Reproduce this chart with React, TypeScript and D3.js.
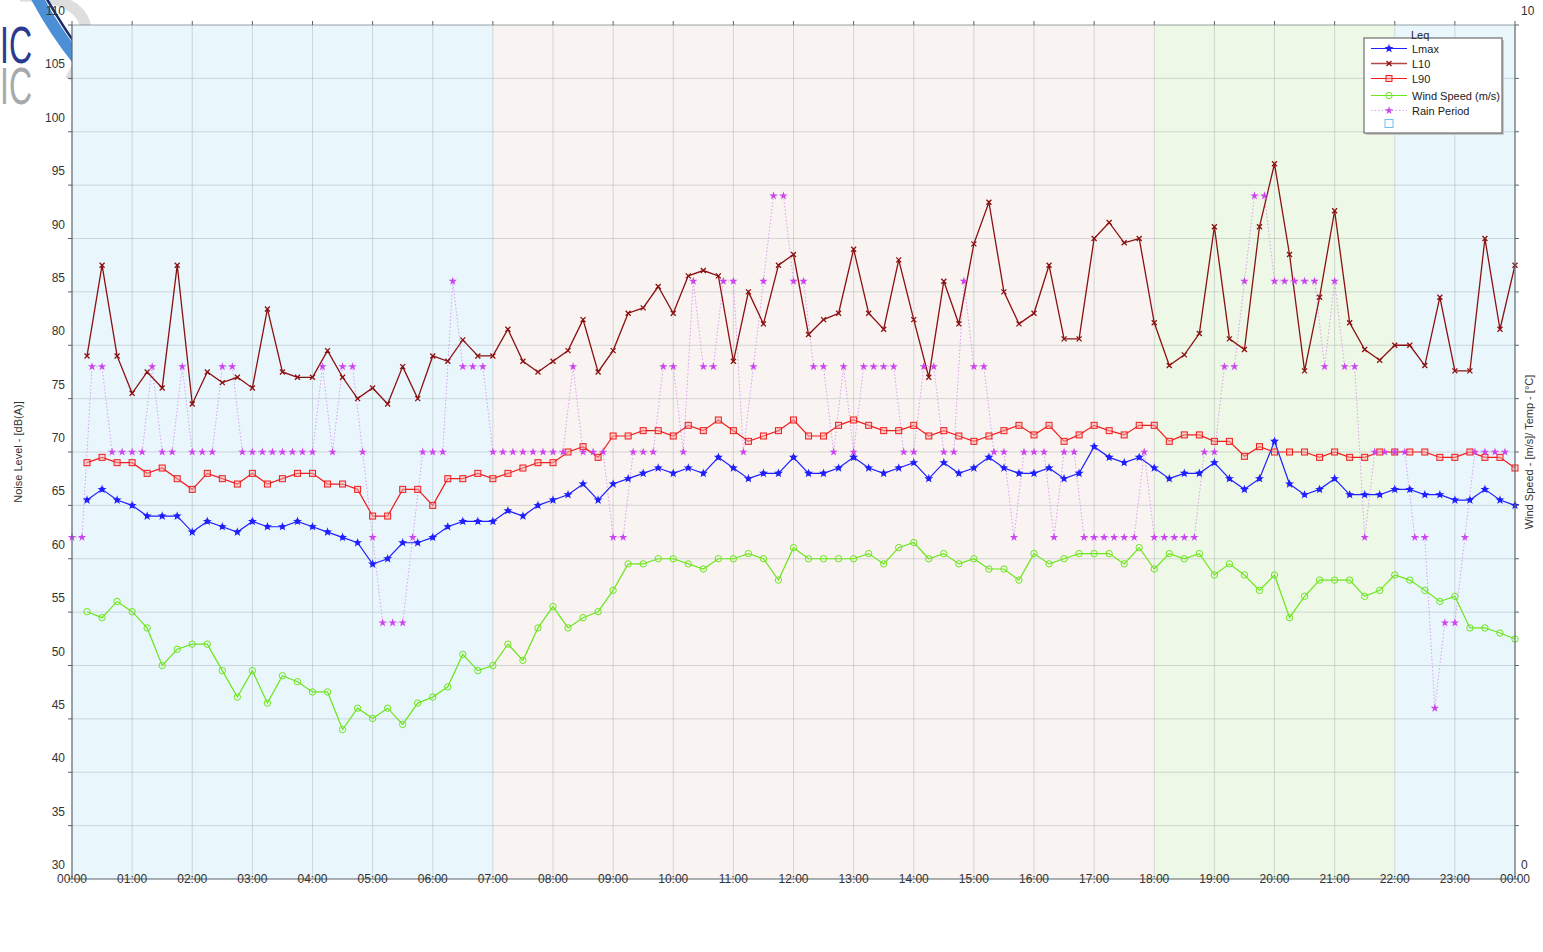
import React from "react";
import * as d3 from "d3";

// ---- Data ----
const HOUR_LABELS = [
  "00:00", "01:00", "02:00", "03:00", "04:00", "05:00", "06:00", "07:00",
  "08:00", "09:00", "10:00", "11:00", "12:00", "13:00", "14:00", "15:00",
  "16:00", "17:00", "18:00", "19:00", "20:00", "21:00", "22:00", "23:00", "00:00",
];
const DB_TICKS = [30, 35, 40, 45, 50, 55, 60, 65, 70, 75, 80, 85, 90, 95, 100, 105, 110];
const RIGHT_TICKS = [0, 10];

const PERIODS = [
  { name: "night", from: 0, to: 7 },
  { name: "day", from: 7, to: 18 },
  { name: "evening", from: 18, to: 22 },
  { name: "night", from: 22, to: 24 },
];

// 15-minute values, 00:15 .. 24:00
const LMAX = [
  65.5, 66.5, 65.5,
  65.0, 64.0, 64.0, 64.0,
  62.5, 63.5, 63.0, 62.5,
  63.5, 63.0, 63.0, 63.5,
  63.0, 62.5, 62.0, 61.5,
  59.5, 60.0, 61.5, 61.5,
  62.0, 63.0, 63.5, 63.5,
  63.5, 64.5, 64.0, 65.0,
  65.5, 66.0, 67.0, 65.5,
  67.0, 67.5, 68.0, 68.5,
  68.0, 68.5, 68.0, 69.5,
  68.5, 67.5, 68.0, 68.0,
  69.5, 68.0, 68.0, 68.5,
  69.5, 68.5, 68.0, 68.5,
  69.0, 67.5, 69.0, 68.0,
  68.5, 69.5, 68.5, 68.0,
  68.0, 68.5, 67.5, 68.0,
  70.5, 69.5, 69.0, 69.5,
  68.5, 67.5, 68.0, 68.0,
  69.0, 67.5, 66.5, 67.5,
  71.0, 67.0, 66.0, 66.5,
  67.5, 66.0, 66.0, 66.0,
  66.5, 66.5, 66.0, 66.0,
  65.5, 65.5, 66.5, 65.5,
  65.0,
];

const L10 = [
  79.0, 87.5, 79.0,
  75.5, 77.5, 76.0, 87.5,
  74.5, 77.5, 76.5, 77.0,
  76.0, 83.4, 77.5, 77.0,
  77.0, 79.5, 77.0, 75.0,
  76.0, 74.5, 78.0, 75.0,
  79.0, 78.5, 80.5, 79.0,
  79.0, 81.5, 78.5, 77.5,
  78.5, 79.5, 82.4, 77.5,
  79.5, 83.0, 83.5, 85.5,
  83.0, 86.5, 87.0, 86.5,
  78.5, 85.0, 82.0, 87.5,
  88.5, 81.0, 82.4, 83.0,
  89.0, 83.0, 81.5, 88.0,
  82.4, 77.0, 86.0, 82.0,
  89.5, 93.4, 85.0, 82.0,
  83.0, 87.5, 80.6, 80.6,
  90.0, 91.5, 89.6, 90.0,
  82.1, 78.1, 79.1, 81.1,
  91.1, 80.6, 79.6, 91.1,
  97.0, 88.5, 77.6, 84.5,
  92.6, 82.1, 79.6, 78.6,
  80.0, 80.0, 78.1, 84.5,
  77.6, 77.6, 90.0, 81.5,
  87.5,
];

const L90 = [
  69.0, 69.5, 69.0,
  69.0, 68.0, 68.5, 67.5,
  66.5, 68.0, 67.5, 67.0,
  68.0, 67.0, 67.5, 68.0,
  68.0, 67.0, 67.0, 66.5,
  64.0, 64.0, 66.5, 66.5,
  65.0, 67.5, 67.5, 68.0,
  67.5, 68.0, 68.5, 69.0,
  69.0, 70.0, 70.5, 69.5,
  71.5, 71.5, 72.0, 72.0,
  71.5, 72.5, 72.0, 73.0,
  72.0, 71.0, 71.5, 72.0,
  73.0, 71.5, 71.5, 72.5,
  73.0, 72.5, 72.0, 72.0,
  72.5, 71.5, 72.0, 71.5,
  71.0, 71.5, 72.0, 72.5,
  71.6, 72.5, 71.0, 71.6,
  72.5, 72.0, 71.6, 72.5,
  72.5, 71.0, 71.6, 71.6,
  71.0, 71.0, 69.6, 70.5,
  70.0, 70.0, 70.0, 69.5,
  70.0, 69.5, 69.5, 70.0,
  70.0, 70.0, 70.0, 69.5,
  69.5, 70.0, 69.5, 69.5,
  68.5,
];

// Wind speed (m/s), 15-minute values, 00:15 .. 24:00
const WIND = [
  3.13, 3.06, 3.25,
  3.13, 2.94, 2.50, 2.69,
  2.75, 2.75, 2.44, 2.13,
  2.44, 2.06, 2.38, 2.31,
  2.19, 2.19, 1.75, 2.00,
  1.88, 2.00, 1.81, 2.06,
  2.13, 2.25, 2.63, 2.44,
  2.50, 2.75, 2.56, 2.94,
  3.19, 2.94, 3.06, 3.13,
  3.38, 3.69, 3.69, 3.75,
  3.75, 3.69, 3.63, 3.75,
  3.75, 3.81, 3.75, 3.50,
  3.88, 3.75, 3.75, 3.75,
  3.75, 3.81, 3.69, 3.88,
  3.94, 3.75, 3.81, 3.69,
  3.75, 3.63, 3.63, 3.50,
  3.81, 3.69, 3.75, 3.81,
  3.81, 3.81, 3.69, 3.88,
  3.63, 3.81, 3.75, 3.81,
  3.56, 3.69, 3.56, 3.38,
  3.56, 3.06, 3.31, 3.50,
  3.50, 3.50, 3.31, 3.38,
  3.56, 3.50, 3.38, 3.25,
  3.31, 2.94, 2.94, 2.88,
  2.81,
];

// Rain period, 10-minute values, 00:00 .. 23:50 (right axis units)
const RAIN = [
  4, 4, 6, 6, 5, 5,
  5, 5, 6, 5, 5, 6,
  5, 5, 5, 6, 6, 5,
  5, 5, 5, 5, 5, 5,
  5, 6, 5, 6, 6, 5,
  4, 3, 3, 3, 4, 5,
  5, 5, 7, 6, 6, 6,
  5, 5, 5, 5, 5, 5,
  5, 5, 6, 5, 5, 5,
  4, 4, 5, 5, 5, 6,
  6, 5, 7, 6, 6, 7,
  7, 5, 6, 7, 8, 8,
  7, 7, 6, 6, 5, 6,
  5, 6, 6, 6, 6, 5,
  5, 6, 6, 5, 5, 7,
  6, 6, 5, 5, 4, 5,
  5, 5, 4, 5, 5, 4,
  4, 4, 4, 4, 4, 5,
  4, 4, 4, 4, 4, 5,
  5, 6, 6, 7, 8, 8,
  7, 7, 7, 7, 7, 6,
  7, 6, 6, 4, 5, 5,
  5, 5, 4, 4, 2, 3,
  3, 4, 5, 5, 5, 5,
];

const SAMPLE_MIN = 15;
const RAIN_MIN = 10;

const LEGEND_ITEMS = ["Lmax", "L10", "L90", "Wind Speed (m/s)", "Rain Period"];

// ---- Styles ----
const FONT = "'Liberation Sans', Arial, sans-serif";
const PERIOD_FILL: Record<string, string> = {
  night: "#e9f7fd",
  day: "#f9f4f1",
  evening: "#eef8e7",
};
const C_LMAX = "#1f1fff";
const C_L10 = "#8b1010";
const C_L90 = "#f01c1c";
const C_WIND = "#6be61a";
const C_RAIN = "#cc44ee";
const C_RAIN_LINE = "#d9a0ef";

export default function App() {
  const W = 1543;
  const H = 952;
  const left = 72;
  const right = 1515;
  const top = 25;
  const bottom = 879;

  const x = d3.scaleLinear().domain([0, 1440]).range([left, right]);
  const y = d3.scaleLinear().domain([30, 110]).range([bottom, top]);
  const yR = d3.scaleLinear().domain([0, 10]).range([bottom, top]);

  const pts = (arr: number[], sc: d3.ScaleLinear<number, number>, step: number, offset: number) =>
    arr.map((v, i) => [x(offset + i * step), sc(v)] as [number, number]);

  const lmaxP = pts(LMAX, y, SAMPLE_MIN, SAMPLE_MIN);
  const l10P = pts(L10, y, SAMPLE_MIN, SAMPLE_MIN);
  const l90P = pts(L90, y, SAMPLE_MIN, SAMPLE_MIN);
  const windP = pts(WIND, yR, SAMPLE_MIN, SAMPLE_MIN);
  const rainP = pts(RAIN, yR, RAIN_MIN, 0);

  const line = d3.line<[number, number]>().x((d) => d[0]).y((d) => d[1]);
  const starPath = d3.symbol().type(d3.symbolStar).size(22)() as string;
  const lmaxSym = d3.symbol().type(d3.symbolStar).size(26)() as string;

  const hours = d3.range(0, 25);

  const xMark = (cx: number, cy: number, k: string | number, color: string) => (
    <path
      key={k}
      d={`M${cx - 2.5},${cy - 2.5}L${cx + 2.5},${cy + 2.5}M${cx - 2.5},${cy + 2.5}L${cx + 2.5},${cy - 2.5}`}
      stroke={color}
      strokeWidth={1.3}
      fill="none"
    />
  );
  const sqMark = (cx: number, cy: number, k: string | number) => (
    <rect key={k} x={cx - 3} y={cy - 3} width={6} height={6} fill="#f8b0b0" fillOpacity={0.5} stroke={C_L90} strokeWidth={1} />
  );
  const circMark = (cx: number, cy: number, k: string | number) => (
    <circle key={k} cx={cx} cy={cy} r={3.2} fill="none" stroke={C_WIND} strokeWidth={1} />
  );
  const lmaxMark = (cx: number, cy: number, k: string | number) => (
    <g key={k}>
      <circle cx={cx} cy={cy} r={2.3} fill={C_LMAX} />
      <path d={lmaxSym} transform={`translate(${cx},${cy})`} fill={C_LMAX} />
    </g>
  );
  const rainMark = (cx: number, cy: number, k: string | number) => (
    <path key={k} d={starPath} transform={`translate(${cx},${cy})`} fill={C_RAIN} />
  );

  const legendX = 1364;
  const legendY = 38;
  const legendRows = [48.5, 63.5, 78.5, 95.5, 110.5];

  return (
    <svg
      width={W}
      height={H}
      style={{ position: "absolute", left: 0, top: 0, background: "#fff" }}
      fontFamily={FONT}
    >
      {/* logo fragment */}
      <g>
        <path d="M 20 -4 C 80 -4, 106 20, 70 80" stroke="#dedede" strokeWidth={11} fill="none" />
        <path d="M 36 -4 Q 54 30 78 60" stroke="#4b8fd6" strokeWidth={12} fill="none" />
        <path d="M 44 -6 Q 62 26 84 56" stroke="#1c2a6e" strokeWidth={2.5} fill="none" />
        <text x={0} y={63} fontSize={52} fill="#2b3990" textLength={32} lengthAdjust="spacingAndGlyphs" fontFamily={FONT}>
          IC
        </text>
        <text x={0} y={104} fontSize={52} fill="#a7a9ac" textLength={32} lengthAdjust="spacingAndGlyphs" fontFamily={FONT}>
          IC
        </text>
      </g>

      {/* period backgrounds */}
      {PERIODS.map((p, i) => (
        <rect
          key={i}
          x={x(p.from * 60)}
          y={top}
          width={x(p.to * 60) - x(p.from * 60)}
          height={bottom - top}
          fill={PERIOD_FILL[p.name]}
        />
      ))}

      {/* grid */}
      <g stroke="#8f9a9e" strokeOpacity={0.35} strokeWidth={1}>
        {DB_TICKS.slice(1, -1).map((v) => (
          <line key={"h" + v} x1={left} x2={right} y1={y(v)} y2={y(v)} />
        ))}
        {hours.slice(1, -1).map((h) => (
          <line key={"v" + h} x1={x(h * 60)} x2={x(h * 60)} y1={top} y2={bottom} />
        ))}
      </g>

      {/* series */}
      <path d={line(rainP) as string} fill="none" stroke={C_RAIN_LINE} strokeWidth={1} strokeDasharray="1.5,2" />
      <path d={line(windP) as string} fill="none" stroke={C_WIND} strokeWidth={1.2} />
      <path d={line(lmaxP) as string} fill="none" stroke={C_LMAX} strokeWidth={1.2} />
      <path d={line(l90P) as string} fill="none" stroke={C_L90} strokeWidth={1.2} />
      <path d={line(l10P) as string} fill="none" stroke={C_L10} strokeWidth={1.3} />
      {windP.map((p, i) => circMark(p[0], p[1], "w" + i))}
      {lmaxP.map((p, i) => lmaxMark(p[0], p[1], "m" + i))}
      {l90P.map((p, i) => sqMark(p[0], p[1], "q" + i))}
      {l10P.map((p, i) => xMark(p[0], p[1], "x" + i, C_L10))}
      {rainP.map((p, i) => rainMark(p[0], p[1], "r" + i))}

      {/* axes frame */}
      <g stroke="#5a6468" strokeWidth={1.2} fill="none">
        <line x1={left} x2={left} y1={top} y2={bottom} />
        <line x1={right} x2={right} y1={top} y2={bottom} />
        <line x1={left} x2={right} y1={bottom} y2={bottom} />
        <line x1={left} x2={right} y1={top} y2={top} strokeOpacity={0.6} />
      </g>
      {/* ticks */}
      <g stroke="#5a6468" strokeWidth={1}>
        {DB_TICKS.map((v) => (
          <line key={"lt" + v} x1={left - 4} x2={left} y1={y(v)} y2={y(v)} />
        ))}
        {DB_TICKS.map((v) => (
          <line key={"rt" + v} x1={right} x2={right + 4} y1={y(v)} y2={y(v)} />
        ))}
        {hours.map((h) => (
          <line key={"tt" + h} x1={x(h * 60)} x2={x(h * 60)} y1={top - 4} y2={top} />
        ))}
      </g>

      {/* left tick labels */}
      <g fontSize={12} fill="#333" textAnchor="end">
        {DB_TICKS.map((v) => (
          <text key={"ll" + v} x={65} y={y(v) - 14} dominantBaseline="central">
            {v}
          </text>
        ))}
      </g>
      {/* right tick labels */}
      <g fontSize={12} fill="#333" textAnchor="start">
        {RIGHT_TICKS.map((v) => (
          <text key={"rl" + v} x={1521} y={yR(v) - 14} dominantBaseline="central">
            {v}
          </text>
        ))}
      </g>
      {/* x tick labels */}
      <g fontSize={12} fill="#333" textAnchor="middle">
        {HOUR_LABELS.map((lab, i) => (
          <text key={"xl" + i} x={x(i * 60)} y={bottom} dominantBaseline="central">
            {lab}
          </text>
        ))}
      </g>

      {/* axis titles */}
      <text
        transform={`translate(18,${(top + bottom) / 2}) rotate(-90)`}
        textAnchor="middle"
        dominantBaseline="central"
        fontSize={11}
        fill="#333"
      >
        Noise Level - [dB(A)]
      </text>
      <text
        transform={`translate(1529,${(top + bottom) / 2}) rotate(-90)`}
        textAnchor="middle"
        dominantBaseline="central"
        fontSize={11}
        fill="#333"
      >
        Wind Speed - [m/s]/ Temp - [°C]
      </text>

      {/* legend */}
      <g>
        <rect x={legendX + 2} y={legendY + 2} width={138} height={95} fill="#c8c8c8" />
        <rect x={legendX} y={legendY} width={138} height={95} fill="#fff" stroke="#555" strokeWidth={1} />
        <text x={1411} y={39} fontSize={11} fill="#222">
          Leq
        </text>
        {LEGEND_ITEMS.map((name, i) => {
          const ly = legendRows[i];
          const lx1 = 1371;
          const lx2 = 1407;
          const cx = (lx1 + lx2) / 2;
          let lineEl;
          let mark;
          if (i === 0) {
            lineEl = <line x1={lx1} x2={lx2} y1={ly} y2={ly} stroke={C_LMAX} strokeWidth={1.2} />;
            mark = lmaxMark(cx, ly, "lg0");
          } else if (i === 1) {
            lineEl = <line x1={lx1} x2={lx2} y1={ly} y2={ly} stroke="#b34848" strokeWidth={1.6} />;
            mark = xMark(cx, ly, "lg1", C_L10);
          } else if (i === 2) {
            lineEl = <line x1={lx1} x2={lx2} y1={ly} y2={ly} stroke={C_L90} strokeWidth={1.2} />;
            mark = sqMark(cx, ly, "lg2");
          } else if (i === 3) {
            lineEl = <line x1={lx1} x2={lx2} y1={ly} y2={ly} stroke={C_WIND} strokeWidth={1.2} />;
            mark = circMark(cx, ly, "lg3");
          } else {
            lineEl = (
              <line x1={lx1} x2={lx2} y1={ly} y2={ly} stroke={C_RAIN_LINE} strokeWidth={1} strokeDasharray="1.5,2" />
            );
            mark = rainMark(cx, ly, "lg4");
          }
          return (
            <g key={"lg" + i}>
              {lineEl}
              {mark}
              <text x={1412} y={ly} fontSize={11} fill="#222" dominantBaseline="central">
                {name}
              </text>
            </g>
          );
        })}
        <rect x={1385} y={119.5} width={8} height={8} fill="none" stroke="#6cc0ee" strokeWidth={1} />
      </g>
    </svg>
  );
}
